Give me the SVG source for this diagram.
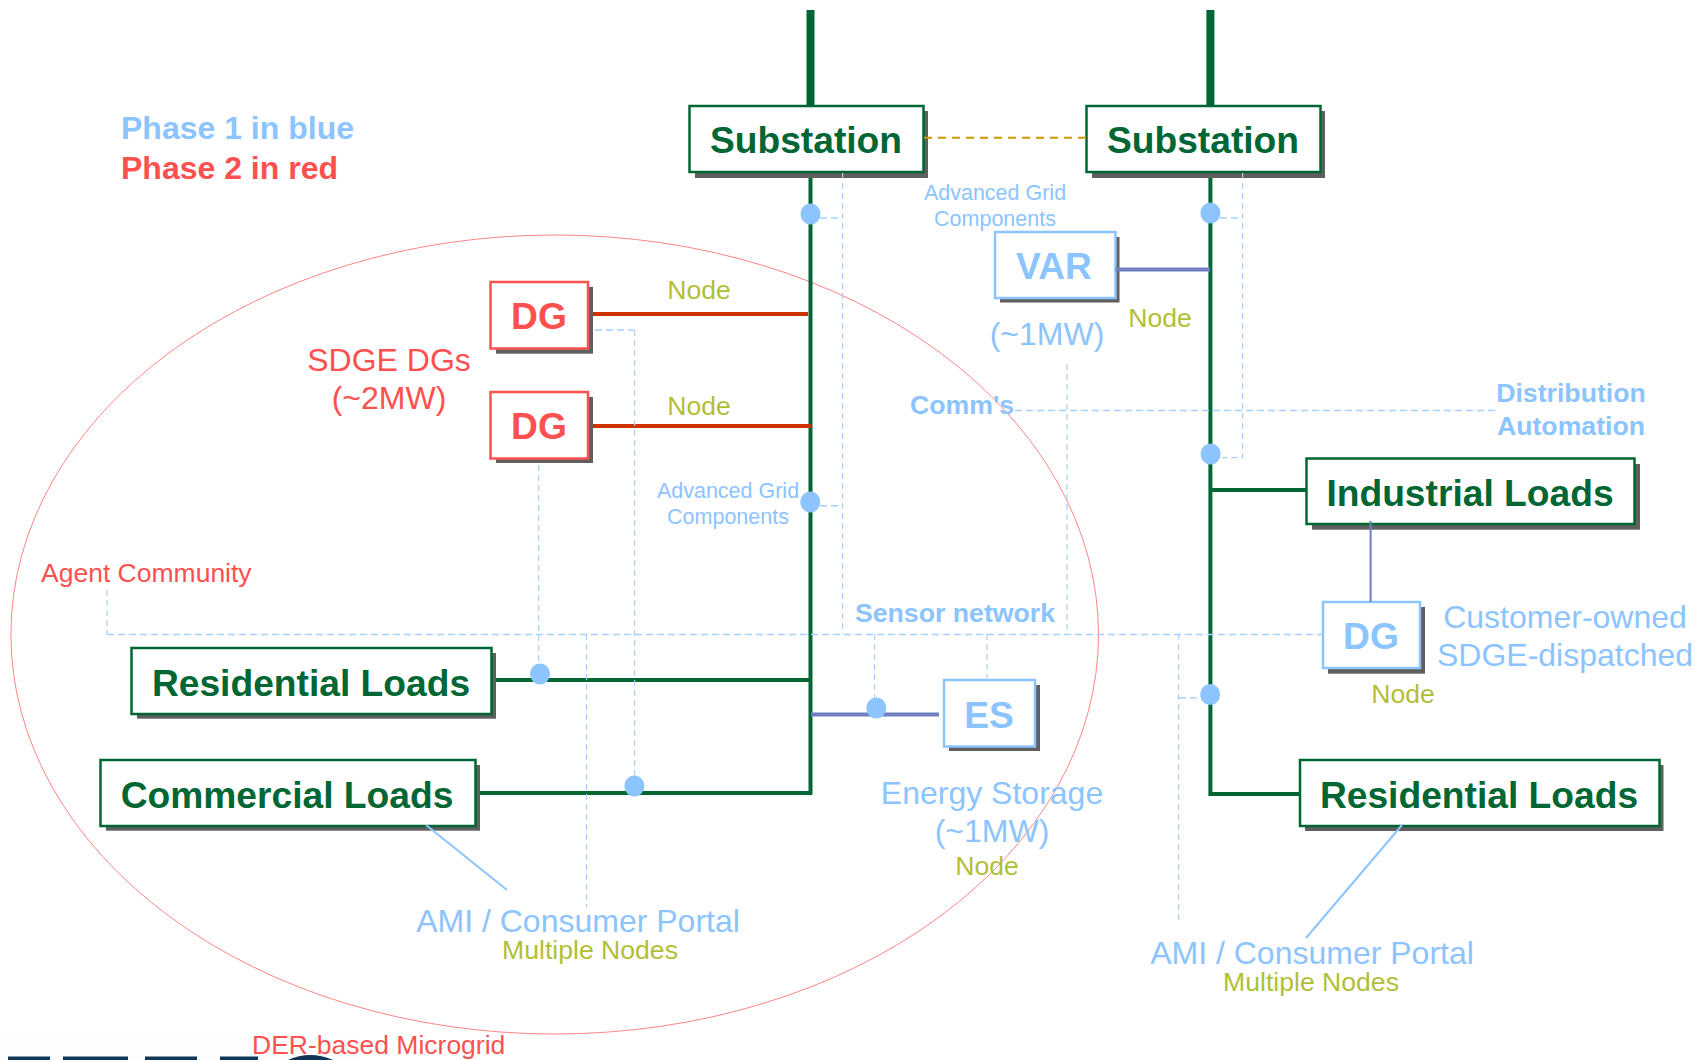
<svg xmlns="http://www.w3.org/2000/svg" width="1702" height="1060" viewBox="0 0 1702 1060">
<style>
text{font-family:"Liberation Sans",Arial,sans-serif;text-anchor:middle}
.box{fill:#fff;stroke-width:2.5}
.g{stroke:#006633}.gt{fill:#006633;font-weight:bold;font-size:37.200px}
.r{stroke:#ff5050}.rt{fill:#ff5050;font-weight:bold;font-size:37.200px}
.b{stroke:#8cc4ff}.bt{fill:#8cc4ff;font-weight:bold;font-size:37.200px}
.sh{fill:#5f5f5f}
.lb{fill:#8cc4ff;font-size:32px}.lr{fill:#ff5050;font-size:32px}
.ls{fill:#8cc4ff;font-size:21.500px}.n{fill:#b2bf36;font-size:26.600px}
.hb{fill:#8cc4ff;font-weight:bold}
.hs{font-size:26.700px}
.d{fill:none;stroke:#a6d1ff;stroke-width:1.200;stroke-dasharray:6 4}
.dt{fill:none;stroke:#a6d1ff;stroke-width:1.600;stroke-dasharray:7 4}
.gl{fill:none;stroke:#006633;stroke-width:4}
.rl{stroke:#cc3300;stroke-width:4;fill:none}
.pl{stroke:#6f7fbf;stroke-width:4;fill:none}
.dot{fill:#8cc4ff}
.logo{fill:#0f3557}
</style>
<rect x="0" y="1033" width="360" height="27" fill="#fcfdfd"/>
<g class="logo">
<rect x="8" y="1056.500" width="42" height="3.500"/><rect x="63" y="1056.500" width="65" height="3.500"/>
<rect x="145" y="1056.500" width="52" height="3.500"/><rect x="220" y="1056.500" width="38" height="3.500"/>
<path d="M288 1060Q310 1050 333 1060Z"/>
</g>
<ellipse id="microgrid" cx="554.700" cy="634.500" rx="543.800" ry="399.500" fill="none" stroke="#ff5050" stroke-width="0.700"/>
<g id="substation-1"><rect class="sh" x="695" y="111" width="233" height="67"/><rect class="box g" x="689.500" y="106" width="234" height="66"/><text class="gt" x="806" y="153">Substation</text></g>
<g id="substation-2"><rect class="sh" x="1092" y="111" width="233" height="67"/><rect class="box g" x="1086.500" y="106" width="234" height="66"/><text class="gt" x="1203" y="153">Substation</text></g>
<g id="var"><rect class="sh" x="1000" y="237" width="119.500" height="65.500"/><rect class="box b" x="995" y="232" width="120.500" height="66"/><text class="bt" x="1054" y="279">VAR</text></g>
<g id="dg-1"><rect class="sh" x="496" y="287" width="97" height="66.700"/><rect class="box r" x="490.500" y="282" width="97.500" height="66.500"/><text class="rt" x="539" y="329">DG</text></g>
<g id="dg-2"><rect class="sh" x="496" y="397" width="97" height="66"/><rect class="box r" x="490.500" y="392" width="97.500" height="66.500"/><text class="rt" x="539" y="439">DG</text></g>
<g id="industrial"><rect class="sh" x="1312" y="464" width="328" height="65.700"/><rect class="box g" x="1306.500" y="458.500" width="328" height="65.500"/><text class="gt" x="1470" y="506">Industrial Loads</text></g>
<g id="dg-3"><rect class="sh" x="1328" y="607" width="97" height="66.700"/><rect class="box b" x="1323" y="602" width="97" height="66"/><text class="bt" x="1371" y="649">DG</text></g>
<g id="residential-1"><rect class="sh" x="137" y="653" width="359" height="65.700"/><rect class="box g" x="131.500" y="648" width="360" height="66"/><text class="gt" x="311" y="695.500">Residential Loads</text></g>
<g id="commercial"><rect class="sh" x="106" y="765" width="374" height="65.700"/><rect class="box g" x="100.500" y="760" width="375" height="66"/><text class="gt" x="287" y="807.500">Commercial Loads</text></g>
<g id="es"><rect class="sh" x="949" y="685" width="91" height="66"/><rect class="box b" x="944" y="680" width="91" height="66.500"/><text class="bt" x="989" y="727.500">ES</text></g>
<g id="residential-2"><rect class="sh" x="1305" y="765" width="358.500" height="66"/><rect class="box g" x="1300" y="760" width="359.500" height="66"/><text class="gt" x="1479" y="807.500">Residential Loads</text></g>
<g id="connectors">
<path class="gl" style="stroke-width:8" d="M810.500 10V106M1210.400 10V106"/>
<path class="gl" d="M810.500 178V793H480M496 680H810.500M1210.400 178V794H1300M1210.400 490H1306"/>
<path class="rl" d="M593 314H808M593 426H811"/>
<path class="pl" d="M1115.500 269.500H1210M811 714.500H939"/>
<path class="pl" style="stroke-width:2" d="M1370.600 521V602"/>
<path d="M924 137.700H1086" fill="none" stroke="#cc9900" stroke-width="2" stroke-dasharray="8 6"/>
<path d="M426 825L507 890M1402 825L1306 938" fill="none" stroke="#8cc4ff" stroke-width="2"/>
<path class="d" d="M842.600 173V634M1242.600 173V457.700H1222M538.700 465V664M634.700 330V776M586.600 634V907M874.600 634V700M987 634V680M1067 364V634M1178.700 634V923M107 590V634"/>
<path class="dt" d="M107 634.500H1322M1015 410.500H1496M595 330H634.700M820 218H842.600M1220 218H1242.600M1178.700 697.700H1200M820 505.700H842.600"/>
</g>
<g class="dot">
<ellipse cx="810.500" cy="214" rx="10" ry="10.500"/><ellipse cx="1210.400" cy="213" rx="10" ry="10.500"/>
<ellipse cx="810.300" cy="502" rx="10" ry="10.500"/><ellipse cx="1210.600" cy="454" rx="10" ry="10.500"/>
<ellipse cx="1210.200" cy="694.500" rx="10" ry="10.500"/><ellipse cx="540" cy="674" rx="10" ry="10.500"/>
<ellipse cx="634.400" cy="786" rx="10" ry="10.500"/><ellipse cx="876.300" cy="708" rx="10" ry="10.500"/>
</g>
<g id="labels">
<text class="hb" style="text-anchor:start;font-size:32px" x="121" y="139">Phase 1 in blue</text>
<text style="text-anchor:start;font-size:32px;font-weight:bold;fill:#ff5050" x="121" y="179">Phase 2 in red</text>
<text class="ls" x="995" y="200">Advanced Grid</text><text class="ls" x="995" y="226">Components</text>
<text class="ls" x="728" y="498">Advanced Grid</text><text class="ls" x="728" y="524">Components</text>
<text class="lb" x="1047" y="345">(~1MW)</text>
<text class="n" x="1160" y="326.500">Node</text><text class="n" x="699" y="298.500">Node</text><text class="n" x="699" y="414.500">Node</text>
<text class="n" x="1403" y="702.500">Node</text><text class="n" x="987" y="874.500">Node</text>
<text class="lr" x="389" y="371">SDGE DGs</text><text class="lr" x="389" y="409">(~2MW)</text>
<text class="hb hs" x="962" y="414">Comm's</text>
<text class="hb hs" x="1571" y="402">Distribution</text>
<text class="hb hs" x="1571" y="435">Automation</text>
<text class="hb hs" x="955" y="622">Sensor network</text>
<text class="lr" style="font-size:26.500px;text-anchor:start" x="41" y="582">Agent Community</text>
<text class="lb" x="1565" y="627.500">Customer-owned</text><text class="lb" x="1565" y="665.500">SDGE-dispatched</text>
<text class="lb" x="992" y="803.500">Energy Storage</text><text class="lb" x="992" y="842">(~1MW)</text>
<text class="lb" x="578" y="932">AMI / Consumer Portal</text><text class="n" x="590" y="959">Multiple Nodes</text>
<text class="lb" x="1312" y="964">AMI / Consumer Portal</text><text class="n" x="1311" y="991">Multiple Nodes</text>
<text class="lr" style="font-size:26.500px;text-anchor:start" x="252" y="1054">DER-based Microgrid</text>
</g>
</svg>
